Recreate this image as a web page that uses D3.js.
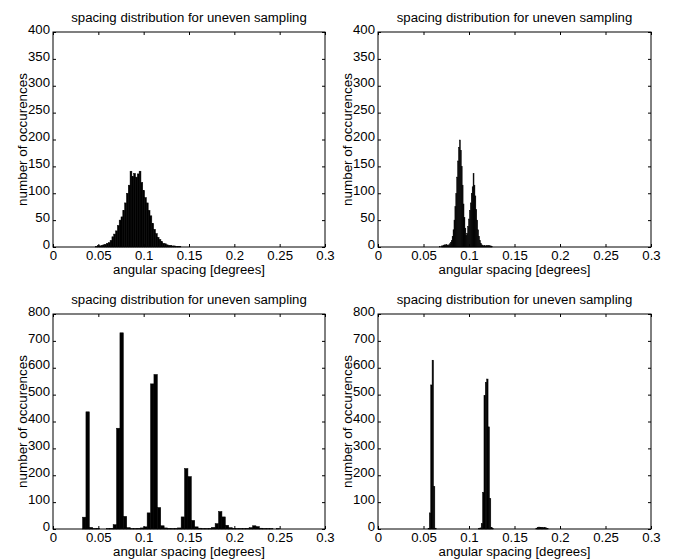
<!DOCTYPE html>
<html>
<head>
<meta charset="utf-8">
<script src="https://cdn.jsdelivr.net/npm/d3@7"></script>
<style>
  body { margin: 0; background: #fff; }
  text { font-family: "Liberation Sans", Arial, Helvetica, sans-serif; fill: #000; }
</style>
</head>
<body>
<svg id="fig" width="673" height="559"></svg>
<script>
// tick labels
var xTicks = [0, 0.05, 0.1, 0.15, 0.2, 0.25, 0.3];
var yTicksTop = [0, 50, 100, 150, 200, 250, 300, 350, 400];
var yTicksBottom = [0, 100, 200, 300, 400, 500, 600, 700, 800];

// histogram bins: first bin centre, bin width, counts per bin
var h1Start = 0.048, h1Width = 0.002;
var h1Counts = [1, 3, 2, 3, 4, 5, 7, 8, 12, 19, 24, 30, 40, 50, 56, 68, 82, 100, 115, 141,
    131, 137, 130, 136, 141, 120, 105, 92, 82, 68, 58, 44, 33, 25, 18, 14, 10, 7, 6, 4,
    3, 3, 2, 2, 1, 1, 1];

var h2Start = 0.066, h2Width = 0.001;
var h2Counts = [0, 0, 1, 0, 2, 2, 3, 4, 3, 5, 4, 3, 4, 6, 8, 12, 20, 32, 50, 75,
    100, 130, 160, 185, 199, 180, 150, 115, 80, 55, 35, 22, 25, 38, 52, 68, 82, 100, 112, 137,
    115, 95, 70, 50, 32, 20, 12, 7, 4, 3, 2, 3, 2, 2, 3, 2, 3, 2, 2, 1];

var h3Start = 0.03445, h3Width = 0.00375;
var h3Counts = [44, 436, 6, 1, 2, 0, 0, 1, 2, 16, 375, 730, 47, 5, 1, 1, 2, 4, 8, 60,
    540, 575, 80, 12, 4, 2, 1, 2, 4, 45, 225, 195, 32, 8, 3, 1, 1, 2, 6, 20,
    65, 45, 14, 5, 2, 1, 1, 1, 2, 5, 12, 9, 3, 1, 1, 1, 0, 1];

var h4Start = 0.0542, h4Width = 0.0015;
var h4Counts = [0, 2, 60, 536, 628, 158, 3, 0, 0, 0, 0, 0, 0, 0, 0, 0, 0, 0, 0, 0,
    0, 0, 0, 0, 0, 0, 0, 0, 0, 0, 0, 0, 0, 0, 0, 0, 0, 0, 1, 4,
    20, 136, 496, 546, 558, 380, 113, 5, 1, 0, 0, 0, 0, 0, 0, 0, 0, 0, 0, 0,
    0, 0, 0, 0, 0, 0, 0, 0, 0, 0, 0, 0, 0, 0, 0, 0, 0, 0, 0, 0,
    3, 6, 7, 6, 5, 5, 5, 4, 2];

var titleText = "spacing distribution for uneven sampling";
var xLabel = "angular spacing [degrees]";
var yLabel = "number of occurences";

var panels = [
    { left: 53, top: 32, width: 272, height: 215, yMax: 400, yTicks: yTicksTop, start: h1Start, bw: h1Width, counts: h1Counts },
    { left: 378, top: 32, width: 273, height: 215, yMax: 400, yTicks: yTicksTop, start: h2Start, bw: h2Width, counts: h2Counts },
    { left: 53, top: 314, width: 272, height: 215, yMax: 800, yTicks: yTicksBottom, start: h3Start, bw: h3Width, counts: h3Counts },
    { left: 378, top: 314, width: 273, height: 215, yMax: 800, yTicks: yTicksBottom, start: h4Start, bw: h4Width, counts: h4Counts }
];

var svg = d3.select('#fig');
var fontSize = 12;

// the original figure's font runs a bit wider than Arial at the same height
function widen(sel, k) {
    sel.each(function () {
        var w = this.getComputedTextLength();
        d3.select(this).attr('textLength', w * k).attr('lengthAdjust', 'spacingAndGlyphs');
    });
}

panels.forEach(function (p) {
    var x = d3.scaleLinear().domain([0, 0.3]).range([0, p.width]);
    var y = d3.scaleLinear().domain([0, p.yMax]).range([p.height, 0]);
    var g = svg.append('g').attr('transform', 'translate(' + p.left + ',' + p.top + ')');

    var bins = p.counts.map(function (c, i) {
        var mid = p.start + i * p.bw;
        return { x0: mid - p.bw / 2, x1: mid + p.bw / 2, n: c };
    });

    /* --------- BARS ---------*/
    g.append('g').selectAll('rect').data(bins.filter(function (d) { return d.n > 0; }))
        .enter().append('rect')
        .attr('x', function (d) { return x(d.x0); })
        .attr('y', function (d) { return y(d.n); })
        .attr('width', function (d) { return Math.max(x(d.x1) - x(d.x0), 0.5); })
        .attr('height', function (d) { return y(0) - y(d.n); })
        .attr('fill', '#000')
        .attr('stroke', '#000')
        .attr('stroke-width', 0.5);

    /* --------- AXES ---------*/
    var fmt = function (d) { return String(d); };
    var bottom = g.append('g').attr('transform', 'translate(0,' + p.height + ')')
        .call(d3.axisBottom(x).tickValues(xTicks).tickFormat(fmt).tickSizeInner(-3).tickSizeOuter(0).tickPadding(6));
    var left = g.append('g')
        .call(d3.axisLeft(y).tickValues(p.yTicks).tickFormat(fmt).tickSizeInner(-3).tickSizeOuter(0).tickPadding(3));
    g.append('g')
        .call(d3.axisTop(x).tickValues(xTicks).tickFormat('').tickSizeInner(-3).tickSizeOuter(0));
    g.append('g').attr('transform', 'translate(' + p.width + ',0)')
        .call(d3.axisRight(y).tickValues(p.yTicks).tickFormat('').tickSizeInner(-3).tickSizeOuter(0));

    g.selectAll('.domain').remove();
    g.selectAll('.tick line').attr('stroke', '#000');
    g.selectAll('.tick text').attr('font-size', fontSize).attr('font-family', null).attr('fill', '#000');
    left.selectAll('.tick text').attr('dy', '0.1em');
    bottom.selectAll('.tick text').attr('dy', '0.62em');
    widen(left.selectAll('.tick text'), 1.1);
    widen(bottom.selectAll('.tick text'), 1.1);

    g.append('rect')
        .attr('width', p.width).attr('height', p.height)
        .attr('fill', 'none').attr('stroke', '#000').attr('stroke-width', 1);

    /* --------- TEXT ---------*/
    var t = g.append('text')
        .attr('x', p.width / 2).attr('y', -10)
        .attr('text-anchor', 'middle').attr('font-size', fontSize)
        .text(titleText);
    var xl = g.append('text')
        .attr('x', p.width / 2).attr('y', p.height + 27)
        .attr('text-anchor', 'middle').attr('font-size', fontSize)
        .text(xLabel);
    var yl = g.append('text')
        .attr('transform', 'translate(-26,' + (p.height / 2) + ') rotate(-90)')
        .attr('text-anchor', 'middle').attr('font-size', fontSize)
        .text(yLabel);
    widen(t, 1.1);
    widen(xl, 1.1);
    widen(yl, 1.12);
});
</script>
</body>
</html>
